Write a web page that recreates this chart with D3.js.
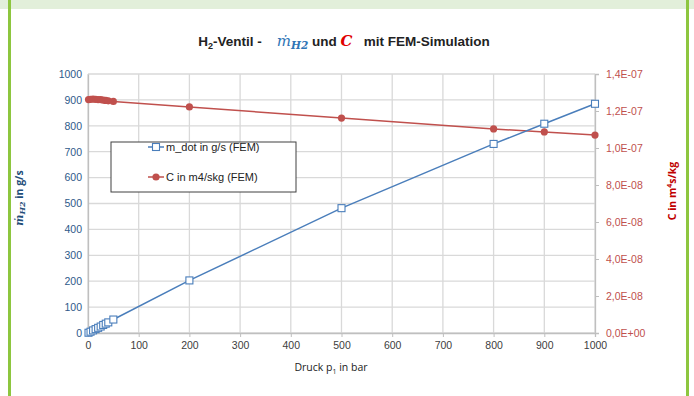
<!DOCTYPE html>
<html>
<head>
<meta charset="utf-8">
<script src="https://d3js.org/d3.v7.min.js"></script>
<style>
  body { margin: 0; background: #fff; }
  svg { display: block; }
  text { white-space: pre; }
</style>
</head>
<body>
<div id="chart"></div>
<script>
// pressure in bar
const pressure = [1, 5, 10, 15, 20, 25, 30, 35, 40, 50, 200, 500, 800, 900, 1000];
// mass flow in g/s (FEM)
const mdot = [1, 5, 10, 15, 20, 25, 31, 36, 41, 52, 203, 482, 730, 808, 885];
// C in m4s/kg (FEM)
const cval = [1.262e-7, 1.263e-7, 1.264e-7, 1.263e-7, 1.262e-7, 1.261e-7, 1.259e-7, 1.257e-7, 1.255e-7, 1.252e-7,
              1.222e-7, 1.162e-7, 1.103e-7, 1.087e-7, 1.070e-7];
const xTicks = d3.range(0, 1001, 100);
const yLeftTicks = d3.range(0, 1001, 100);
const yRightTicks = [0, 2e-8, 4e-8, 6e-8, 8e-8, 1e-7, 1.2e-7, 1.4e-7];

const W = 694, H = 396;
const m = { left: 88, right: 99, top: 74, bottom: 63 };

const svg = d3.select("#chart").append("svg")
  .attr("width", W).attr("height", H);

// frame
svg.append("rect").attr("x", 0).attr("y", 0).attr("width", W).attr("height", 9).attr("fill", "#e2efda");
svg.append("rect").attr("x", 8).attr("y", 0).attr("width", 3).attr("height", H).attr("fill", "#8dc63f");
svg.append("rect").attr("x", 686).attr("y", 0).attr("width", 3).attr("height", H).attr("fill", "#8dc63f");

const x = d3.scaleLinear().domain([0, 1000]).range([m.left, W - m.right]);
const yL = d3.scaleLinear().domain([0, 1000]).range([H - m.bottom, m.top]);
const yR = d3.scaleLinear().domain([0, 1.4e-7]).range([H - m.bottom, m.top]);

const font = "'Liberation Sans', Arial, sans-serif";

// grid
const grid = svg.append("g");
grid.selectAll("line.h").data(yLeftTicks).join("line")
  .attr("x1", x(0)).attr("x2", x(1000))
  .attr("y1", d => yL(d)).attr("y2", d => yL(d))
  .attr("stroke", "#d9d9d9").attr("stroke-width", 1.3);
grid.selectAll("line.v").data(xTicks).join("line")
  .attr("y1", yL(0)).attr("y2", yL(1000))
  .attr("x1", d => x(d)).attr("x2", d => x(d))
  .attr("stroke", "#d9d9d9").attr("stroke-width", 1.3);

// axes
const xAxis = svg.append("g").attr("transform", `translate(0,${yL(0)})`)
  .call(d3.axisBottom(x).tickValues(xTicks).tickFormat(d3.format("d")).tickSize(4).tickPadding(5));
const yAxisL = svg.append("g").attr("transform", `translate(${x(0)},0)`)
  .call(d3.axisLeft(yL).tickValues(yLeftTicks).tickFormat(d3.format("d")).tickSize(0).tickPadding(6));
const yAxisR = svg.append("g").attr("transform", `translate(${x(1000)},0)`)
  .call(d3.axisRight(yR).tickValues(yRightTicks).tickSize(4).tickPadding(7)
    .tickFormat(d => d3.format(".1e")(d).replace(".", ",").replace(/e([+-])(\d)$/, "E$10$2").replace(/e([+-])(\d\d)$/, "E$1$2")));

[xAxis, yAxisL, yAxisR].forEach(a => {
  a.select(".domain").attr("stroke", "#bfbfbf").attr("stroke-width", 1.3);
  a.selectAll(".tick line").attr("stroke", "#bfbfbf");
  a.selectAll("text").attr("font-family", font).attr("font-size", 10.5);
});
xAxis.selectAll("text").attr("fill", "#404040");
yAxisL.selectAll("text").attr("fill", "#2e5a8a");
yAxisR.selectAll("text").attr("fill", "#c0504d");

// series
const lineM = d3.line().x((d, i) => x(pressure[i])).y(d => yL(d));
const lineC = d3.line().x((d, i) => x(pressure[i])).y(d => yR(d));

svg.append("path").datum(cval).attr("d", lineC)
  .attr("fill", "none").attr("stroke", "#c0504d").attr("stroke-width", 1.5);
svg.append("g").selectAll("circle").data(cval).join("circle")
  .attr("cx", (d, i) => x(pressure[i])).attr("cy", d => yR(d)).attr("r", 3.6)
  .attr("fill", "#c0504d");

svg.append("path").datum(mdot).attr("d", lineM)
  .attr("fill", "none").attr("stroke", "#4a7ebb").attr("stroke-width", 1.5);
svg.append("g").selectAll("rect").data(mdot).join("rect")
  .attr("x", (d, i) => x(pressure[i]) - 3.5).attr("y", d => yL(d) - 3.5)
  .attr("width", 7).attr("height", 7)
  .attr("fill", "#fff").attr("stroke", "#4a7ebb").attr("stroke-width", 1.1);

// legend
const lg = svg.append("g");
lg.append("rect").attr("x", 111).attr("y", 142).attr("width", 185).attr("height", 50)
  .attr("fill", "#fff").attr("stroke", "#404040").attr("stroke-width", 1);
lg.append("line").attr("x1", 148).attr("x2", 164).attr("y1", 147).attr("y2", 147)
  .attr("stroke", "#4a7ebb").attr("stroke-width", 1.5);
lg.append("rect").attr("x", 152.5).attr("y", 143.5).attr("width", 7).attr("height", 7)
  .attr("fill", "#fff").attr("stroke", "#4a7ebb").attr("stroke-width", 1.1);
lg.append("text").attr("x", 166).attr("y", 151).text("m_dot in g/s (FEM)")
  .attr("font-family", font).attr("font-size", 11).attr("fill", "#222");
lg.append("line").attr("x1", 148).attr("x2", 164).attr("y1", 177).attr("y2", 177)
  .attr("stroke", "#c0504d").attr("stroke-width", 1.5);
lg.append("circle").attr("cx", 156).attr("cy", 177).attr("r", 3.6).attr("fill", "#c0504d");
lg.append("text").attr("x", 166).attr("y", 181).text("C in m4/skg (FEM)")
  .attr("font-family", font).attr("font-size", 11).attr("fill", "#222");

// title
const t = svg.append("text").attr("x", 344).attr("y", 46).attr("text-anchor", "middle")
  .attr("font-family", font).attr("font-size", 13.5).attr("font-weight", "bold").attr("fill", "#222");
t.append("tspan").text("H");
t.append("tspan").text("2").attr("font-size", 9).attr("dy", 3);
t.append("tspan").text("-Ventil -    ").attr("dy", -3);
t.append("tspan").text("ṁ").attr("fill", "#2e75b6").attr("font-family", "'DejaVu Serif', serif")
  .attr("font-style", "italic").attr("font-weight", "normal").attr("font-size", 15);
t.append("tspan").text("H2").attr("fill", "#2e75b6").attr("font-family", "'DejaVu Serif', serif")
  .attr("font-style", "italic").attr("font-size", 10.5).attr("dy", 3);
t.append("tspan").text(" und ").attr("dy", -3);
t.append("tspan").text("C").attr("fill", "#e00000").attr("font-family", "'DejaVu Serif', serif")
  .attr("font-style", "italic").attr("font-size", 15);
t.append("tspan").text("   mit FEM-Simulation");

// axis titles
const lt = svg.append("text").attr("transform", "translate(23,198) rotate(-90)")
  .attr("text-anchor", "middle").attr("font-family", "'Open Sans', sans-serif")
  .attr("font-size", 10.5).attr("font-weight", "bold").attr("fill", "#1f4e79");
lt.append("tspan").text("ṁ").attr("font-family", "'DejaVu Serif', serif").attr("font-style", "italic");
lt.append("tspan").text("H2").attr("font-family", "'DejaVu Serif', serif").attr("font-style", "italic")
  .attr("font-size", 8).attr("dy", 2);
lt.append("tspan").text(" in g/s").attr("dy", -2);

const rt = svg.append("text").attr("transform", "translate(676,191) rotate(-90)")
  .attr("text-anchor", "middle").attr("font-family", "'Open Sans', sans-serif")
  .attr("font-size", 10.5).attr("font-weight", "bold").attr("fill", "#c00000");
rt.append("tspan").text("C in m");
rt.append("tspan").text("4").attr("font-size", 7).attr("dy", -4);
rt.append("tspan").text("s/kg").attr("dy", 4);

const xt = svg.append("text").attr("x", 331).attr("y", 371).attr("text-anchor", "middle")
  .attr("font-family", "'Open Sans', sans-serif").attr("font-size", 10.5).attr("fill", "#222");
xt.append("tspan").text("Druck p");
xt.append("tspan").text("1").attr("font-size", 7).attr("dy", 3);
xt.append("tspan").text(" in bar").attr("dy", -3);
</script>
</body>
</html>
